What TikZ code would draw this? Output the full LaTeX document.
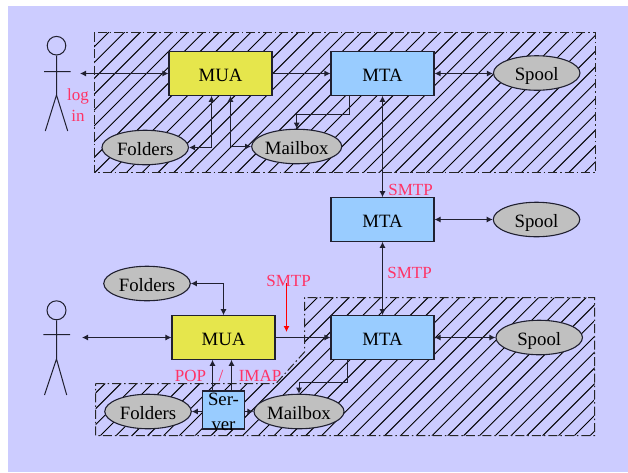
\documentclass[tikz,border=0pt]{standalone}
\usepackage{fontspec}
\setmainfont{Liberation Serif}
\usetikzlibrary{arrows.meta}
\definecolor{bgc}{HTML}{CCCCFF}
\definecolor{yel}{HTML}{E6E64C}
\definecolor{blu}{HTML}{99CCFF}
\definecolor{gry}{HTML}{C0C0C0}
\definecolor{pnk}{HTML}{FF3366}
\definecolor{lin}{HTML}{202030}
\tikzset{
  x=1pt,y=-1pt,
  boxbase/.style={draw=lin,line width=1.1pt,inner sep=0pt,font=\fontsize{18.8}{22}\selectfont,text=black,text height=15pt,text depth=0pt},
  muabox/.style={boxbase,rectangle,fill=yel,minimum width=103pt,minimum height=43.5pt},
  mtabox/.style={boxbase,rectangle,fill=blu,minimum width=103pt,minimum height=43.5pt},
  srvbox/.style={boxbase,rectangle,fill=blu,minimum width=42.5pt,minimum height=38pt},
  oval/.style={boxbase,ellipse,fill=gry,minimum width=86.5pt,minimum height=34.5pt},
  plabel/.style={inner sep=0pt,anchor=base,text=pnk,font=\fontsize{17}{20}\selectfont},
  blabel/.style={inner sep=0pt,anchor=base,text=black,font=\fontsize{18.8}{22}\selectfont},
  conn/.style={draw=lin,line width=1pt,-{Latex[length=6pt,width=6pt]}},
  dconn/.style={draw=lin,line width=1pt,{Latex[length=6pt,width=6pt]}-{Latex[length=6pt,width=6pt]}},
  fig/.style={draw=lin,line width=1pt},
  hatchline/.style={draw=black,line width=0.95pt},
  zoneb/.style={draw=black!85,line width=1pt,dash pattern=on 9pt off 3pt on 1.5pt off 3pt},
}
\usetikzlibrary{shapes.geometric}
\begin{document}
\begin{tikzpicture}
\useasboundingbox (0,0) rectangle (628,472);
\fill[white] (0,0) rectangle (628,472);
\fill[bgc] (8,6) rectangle (628,472);
% top zone
\begin{scope}
\clip (94,32.5) rectangle (595.5,172.5);
\foreach \k in {-1,...,57}{
  \pgfmathsetmacro{\c}{141+\k*15.8}
  \draw[hatchline] (\c,0) -- (0,\c);
}
\end{scope}
\draw[zoneb] (94,32.5) rectangle (595.5,172.5);
% lower zone
\begin{scope}
\clip (95.5,383.5) -- (276,383.5) -- (304.5,352) -- (304.5,297.5) -- (594.5,297.5) -- (594.5,435.5) -- (95.5,435.5) -- cycle;
\foreach \k in {-1,...,57}{
  \pgfmathsetmacro{\c}{141+\k*15.8}
  \draw[hatchline] (\c,0) -- (0,\c);
}
\end{scope}
\draw[zoneb] (95.5,383.5) -- (276,383.5) -- (304.5,352) -- (304.5,297.5) -- (594.5,297.5) -- (594.5,435.5) -- (95.5,435.5) -- cycle;
% nodes
\node[muabox] (muaA) at (220.5,73.5) {MUA};
\node[mtabox] (mtaA) at (382.5,73.5) {MTA};
\node[oval] (spoolA) at (536.7,73) {Spool};
\node[oval] (foldA) at (145.2,147.5) {Folders};
\node[oval] (mboxA) at (296.7,146.5) {Mailbox};
\node[mtabox] (mtaB) at (382.5,219.5) {MTA};
\node[oval] (spoolB) at (536.5,219.5) {Spool};
\node[muabox] (muaC) at (223.5,337.5) {MUA};
\node[mtabox] (mtaC) at (382.5,337.5) {MTA};
\node[oval] (spoolC) at (539.2,337.5) {Spool};
\node[oval] (foldD) at (147,283.5) {Folders};
\node[oval] (foldC) at (148,411.5) {Folders};
\node[oval] (mboxC) at (299,411.5) {Mailbox};
\node[srvbox] (srv) at (223.5,410) {};
\node[blabel] (srvA) at (223.5,405) {Ser-};
\node[blabel] (srvB) at (223.5,430) {ver};
% people
\node[circle,fig,minimum size=18.6pt,inner sep=0pt] (headA) at (56.5,45.7) {};
\coordinate (hipA) at (56.5,95);
\coordinate (armAl) at (44,71.5);
\coordinate (armAr) at (70.7,71.5);
\coordinate (legAl) at (45.3,131);
\coordinate (legAr) at (67.7,131);
\draw[fig] (headA.south) -- (hipA) (armAl) -- (armAr) (legAl) -- (hipA) -- (legAr);
\node[circle,fig,minimum size=19pt,inner sep=0pt] (headC) at (56.5,310.3) {};
\coordinate (hipC) at (56.5,359);
\coordinate (armCl) at (43.3,334.5);
\coordinate (armCr) at (70,334.5);
\coordinate (legCl) at (44.5,395);
\coordinate (legCr) at (66.7,395);
\draw[fig] (headC.south) -- (hipC) (armCl) -- (armCr) (legCl) -- (hipC) -- (legCr);
% free ends
\coordinate (userA) at (80,73.5);
\coordinate (userC) at (82,337.5);
% connectors top
\draw[dconn] (userA) -- (muaA.west);
\draw[conn] (muaA.east) -- (mtaA.west);
\draw[dconn] (mtaA.east) -- (spoolA.west |- mtaA.east);
\draw[dconn] ([xshift=-9pt]muaA.south) |- (foldA.east);
\draw[dconn] ([xshift=10pt]muaA.south) |- (mboxA.west);
\draw[conn] ([xshift=-33pt]mtaA.south) -- ++(0,18.5) -| (mboxA.north);
\draw[dconn] (mtaA.south) -- (mtaB.north);
% middle
\draw[dconn] (mtaB.east) -- (spoolB.west);
\draw[dconn] (mtaB.south) -- (mtaC.north);
% lower
\draw[dconn] (userC) -- (muaC.west);
\draw[conn] (muaC.east) -- (mtaC.west);
\draw[dconn] (mtaC.east) -- (spoolC.west);
\draw[dconn] (foldD.east) -| (muaC.north);
\draw[conn] ([xshift=-11pt]srv.north) -- ([xshift=-11pt]muaC.south);
\draw[conn] ([xshift=8pt]srv.north) -- ([xshift=8pt]muaC.south);
\draw[conn] (srv.west |- foldC.east) -- (foldC.east);
\draw[conn] (srv.east |- mboxC.west) -- (mboxC.west);
\draw[conn] ([xshift=-35pt]mtaC.south) -- ++(0,22.5) -| (mboxC.north);
% labels
\node[plabel] (lgA) at (78,100) {log};
\node[plabel] (lgB) at (78,121.7) {in};
\node[plabel] (smA) at (410.5,195) {SMTP};
\node[plabel] (smB) at (409.5,278) {SMTP};
\node[plabel] (smC) at (288.5,286) {SMTP};
\node[plabel] (pop) at (190.5,381) {POP};
\node[plabel] (sla) at (221,381) {/};
\node[plabel] (ima) at (260,381) {IMAP};
\coordinate (redT) at (286.5,283);
\coordinate (redB) at (286.5,332);
\draw[red,line width=1pt,-{Latex[length=6pt,width=6pt]}] (redT) -- (redB);
\end{tikzpicture}
\end{document}
